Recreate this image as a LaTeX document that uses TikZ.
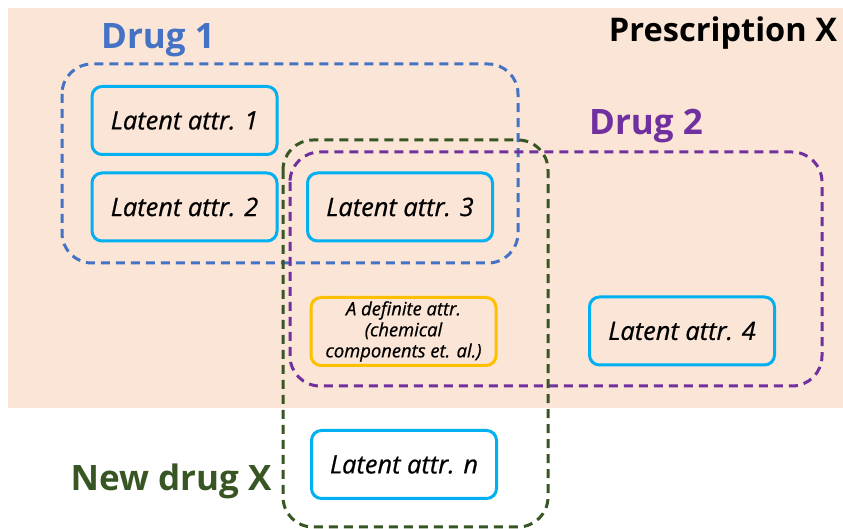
\documentclass[tikz,border=0pt]{standalone}
\usepackage{fontspec}
\setmainfont{Open Sans}
\newfontfamily\attrfont{Open Sans}[FakeBold=0.7]
\definecolor{peach}{HTML}{FBE5D6}
\definecolor{drugblue}{HTML}{4472C4}
\definecolor{drugpurple}{HTML}{7030A0}
\definecolor{druggreen}{HTML}{375623}
\definecolor{attrcyan}{HTML}{00B0F0}
\definecolor{attrgold}{HTML}{FFC000}
\tikzset{
  attr/.style={draw=attrcyan, line width=1.5pt, rounded corners=5pt,
    minimum width=92.5pt, minimum height=34pt, inner sep=1pt,
    font=\attrfont\itshape\fontsize{12.7}{14}\selectfont},
  definite/.style={attr, draw=attrgold, align=center,
    font=\attrfont\itshape\fontsize{9.2}{10.5}\selectfont},
  group/.style={dash pattern=on 4.5pt off 3pt, line width=1.5pt, rounded corners=15pt},
  title/.style={font=\bfseries\fontsize{17.5}{20}\selectfont}
}
\begin{document}
\begin{tikzpicture}[x=0.5pt,y=-0.5pt]
	\useasboundingbox (0,0) rectangle (843,529);
	\fill [peach] (8,8) rectangle (843,408);
	% attributes
	\node [attr] (l1) at (184.5,120.5) {Latent attr. 1};
	\node [attr] (l2) at (184.5,207) {Latent attr. 2};
	\node [attr] (l3) at (400,207) {Latent attr. 3};
	\node [definite] (def) at (403.5,331.5) {A definite attr.\\(chemical\\components et. al.)};
	\node [attr] (l4) at (682,331) {Latent attr. 4};
	\node [attr] (ln) at (404,464.5) {Latent attr. n};
	% groups
	\draw [group, drugblue] (62,64) rectangle (518,263);
	\draw [group, druggreen] (283,140) rectangle (548,527);
	\draw [group, drugpurple] (290,152) rectangle (822,386);
	% titles
	\node [title, drugblue] (drug1) at (158,40) {Drug 1};
	\node [title, drugpurple] (drug2) at (646,126) {Drug 2};
	\node [title, font=\bfseries\fontsize{16.3}{19}\selectfont] (presc) at (723,33) {Prescription X};
	\node [title, druggreen] (newx) at (171,481) {New drug X};
\end{tikzpicture}
\end{document}
